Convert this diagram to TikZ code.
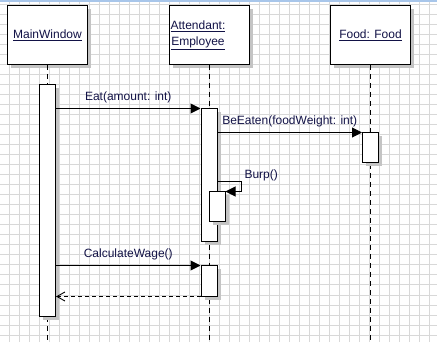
\documentclass[tikz,border=0pt]{standalone}
\usepackage{fontspec}
\setmainfont{Liberation Sans}
\usepackage{xcolor}
\usetikzlibrary{arrows.meta,positioning,shadows,calc}
\definecolor{gridgray}{RGB}{216,216,216}
\definecolor{shadegray}{RGB}{196,196,196}
\definecolor{barblue}{RGB}{168,198,234}
\definecolor{labelnavy}{RGB}{18,18,70}
\tikzset{
  obj/.style={rectangle, draw=black, fill=white, line width=1pt,
              minimum width=80pt, minimum height=59pt, inner sep=0pt,
              drop shadow={shadow xshift=3.5pt, shadow yshift=-3.5pt,
                           fill=shadegray, opacity=1}},
  act/.style={rectangle, draw=black, fill=white, line width=1pt,
              minimum width=16pt, inner sep=0pt,
              drop shadow={shadow xshift=3.5pt, shadow yshift=-3.5pt,
                           fill=shadegray, opacity=1}},
  lifeline/.style={black, dash pattern=on 5pt off 4pt, line width=0.9pt},
  msg/.style={-{Triangle[length=10pt,width=10pt]}, line width=1pt},
  reply/.style={-{Straight Barb[length=8pt,width=9pt]}, dash pattern=on 4pt off 3pt, line width=0.9pt},
  objtext/.style={font=\fontsize{12}{16}\selectfont, text=labelnavy, align=center, inner sep=0pt},
  msgtext/.style={font=\fontsize{12}{14}\selectfont, text=labelnavy},
  gridline/.style={gridgray, line width=1pt},
}

\begin{document}
\begin{tikzpicture}[x=1pt,y=-1pt]
  \useasboundingbox (0,0) rectangle (437,342);
  % background grid
  \foreach \gx in {9,19,...,429}
    \draw[gridline] (\gx,0) -- (\gx,342);
  \foreach \gy in {5,15,...,335}
    \draw[gridline] (0,\gy) -- (437,\gy);
  \fill[barblue] (0,0) rectangle (437,2.5);
  \coordinate (bottom) at (0,342);

  % objects
  \node[obj] (mainwin) at (47.5,35) {};
  \node[obj] (attendant) at (209,35) {};
  \node[obj] (food) at (370.5,35) {};
  \node[objtext] (mainlbl) at (mainwin.center) {\underline{MainWindow}};
  \node[objtext] (attlbl) at ($(attendant.center)+(-11,0.5)$) {\underline{Attendant:}\\\underline{Employee}};
  \node[objtext] (foodlbl) at (food.center) {\underline{Food: Food}};

  % lifelines
  \draw[lifeline] (mainwin.south) -- (mainwin.south |- bottom);
  \draw[lifeline] (attendant.south) -- (attendant.south |- bottom);
  \draw[lifeline] (food.south) -- (food.south |- bottom);

  % activations
  \node[act, minimum height=231pt] (actMain) at (47.5,200.5) {};
  \node[act, minimum height=133pt] (actAtt) at (209,175.5) {};
  \node[act, minimum height=30pt] (actFood) at (370.5,148) {};
  \node[act, minimum height=30pt] (actBurp) at (217,207) {};
  \node[act, minimum height=30pt] (actWage) at (209,281) {};

  % messages
  \draw[msg] (actMain.east |- actAtt.north) -- node[msgtext, above=2pt, inner sep=3pt] {Eat(amount: int)} (actAtt.north west);
  \draw[msg] (actAtt.east |- actFood.north) -- node[msgtext, above=2pt, inner sep=3pt] {BeEaten(foodWeight: int)} (actFood.north west);
  \coordinate (burpA) at (217,182);
  \coordinate (burpB) at (241,182);
  \draw[msg] (actAtt.east |- burpA) -- (burpB) node[msgtext, above right, inner sep=1pt, xshift=2pt] {Burp()} |- (actBurp.north east);
  \draw[msg] (actMain.east |- actWage.north) -- node[msgtext, above=2pt, inner sep=3pt] {CalculateWage()} (actWage.north west);
  \draw[reply] (actWage.south west) -- (actMain.east |- actWage.south);
\end{tikzpicture}
\end{document}
